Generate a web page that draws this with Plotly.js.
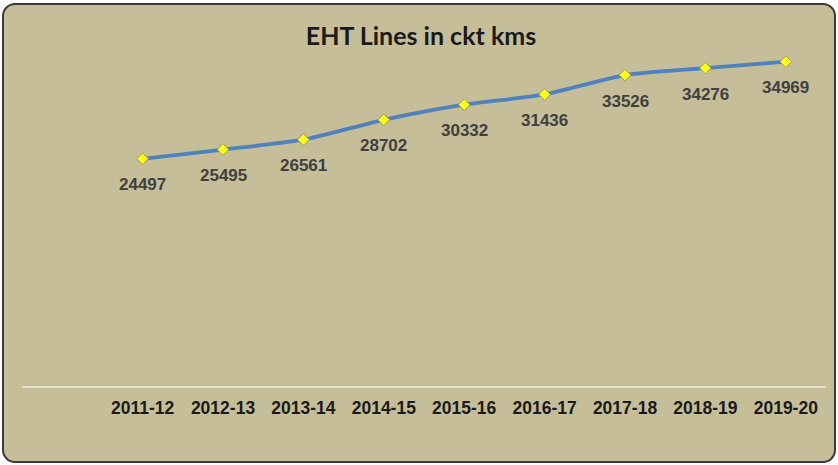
<!DOCTYPE html>
<html>
<head>
<meta charset="utf-8">
<script src="https://cdn.plot.ly/plotly-3.0.1.min.js"></script>
<style>
  html, body { margin: 0; padding: 0; background: #ffffff; }
  #bg { position: absolute; left: 2px; top: 3px; width: 830px; height: 456px;
        background: #C5BE99; border: 2px solid #3a3a3a; border-radius: 13px; }
  #chart { position: absolute; left: 0; top: 0; width: 838px; height: 465px; }
</style>
</head>
<body>
<div id="bg"></div>
<div id="chart"></div>
<script>
const years = ["2011-12","2012-13","2013-14","2014-15","2015-16","2016-17","2017-18","2018-19","2019-20"];
const lengths = [24497, 25495, 26561, 28702, 30332, 31436, 33526, 34276, 34969];
const chartTitle = "EHT Lines in ckt kms";

const trace = {
  type: 'scatter',
  mode: 'lines+markers',
  x: years,
  y: lengths,
  line: { color: '#4F81BD', width: 3.8, shape: 'spline', smoothing: 0.6 },
  marker: { symbol: 'diamond', size: 9, color: '#FFFF1A', line: { color: '#9C9A5A', width: 1 } },
  hoverinfo: 'skip'
};

const annotations = years.map((yr, i) => ({
  x: yr, y: lengths[i], xref: 'x', yref: 'y',
  text: String(lengths[i]), showarrow: false, yshift: -26,
  font: { family: 'Liberation Sans, Arial, sans-serif', size: 17, weight: 700, color: '#404040' }
}));

const layout = {
  width: 838, height: 465,
  paper_bgcolor: 'rgba(0,0,0,0)',
  plot_bgcolor: 'rgba(0,0,0,0)',
  margin: { l: 22, r: 12, t: 15, b: 79 },
  showlegend: false,
  title: {
    text: chartTitle,
    xref: 'container', yref: 'container', x: 0.5024, y: 0.922, xanchor: 'center', yanchor: 'middle',
    font: { family: 'Lato, Open Sans, sans-serif', size: 25, weight: 700, color: '#1a1a1a' }
  },
  xaxis: {
    type: 'category', categoryorder: 'array', categoryarray: years,
    range: [-1.5, 8.5], fixedrange: true,
    showline: true, linecolor: '#E4E0CC', linewidth: 1.5,
    showgrid: false, zeroline: false, ticks: '',
    ticklabelstandoff: 5,
    tickfont: { family: 'Liberation Sans, Arial, sans-serif', size: 17.5, weight: 700, color: '#1a1a1a' }
  },
  yaxis: {
    range: [0, 40000], visible: false, showgrid: false, zeroline: false, fixedrange: true
  },
  annotations: annotations
};

Plotly.newPlot('chart', [trace], layout, { displayModeBar: false, staticPlot: true });
</script>
</body>
</html>
